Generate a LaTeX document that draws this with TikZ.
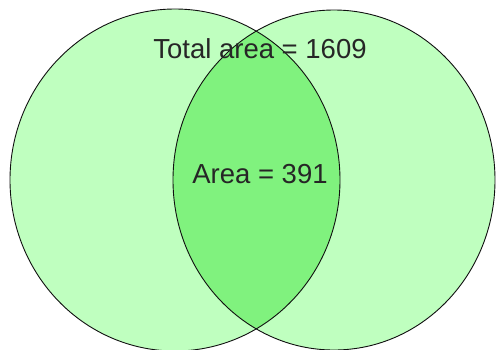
\documentclass[tikz,border=0pt]{standalone}
\usepackage{fontspec}
\setmainfont{Liberation Sans}
\usetikzlibrary{positioning}
\definecolor{setgreen}{HTML}{BFFFBF}
\definecolor{lensgreen}{HTML}{80F27E}
\definecolor{edgeblack}{HTML}{101010}

\begin{document}
\begin{tikzpicture}[
  x=1pt, y=-1pt,
  setfill/.style={fill=setgreen},
  setedge/.style={draw=edgeblack, line width=0.9pt},
  label/.style={font=\fontsize{27.5}{30}\selectfont, text=black!85, inner sep=0pt},
]

% Frame
\useasboundingbox (0,0) rectangle (496,349);

% Circles
\def\leftset{(175,180) ellipse [x radius=165, y radius=171]}
\def\rightset{(334,180) ellipse [x radius=161, y radius=170]}
\fill[setfill] \leftset;
\fill[setfill] \rightset;

% Overlap
\begin{scope}
  \clip \leftset;
  \fill[lensgreen] \rightset;
\end{scope}

\draw[setedge] \leftset;
\draw[setedge] \rightset;

% Labels
\node[label] (total) at (260,49) {Total area = 1609};
\node[label] (overlap) at (260,174) {Area = 391};

\end{tikzpicture}
\end{document}
